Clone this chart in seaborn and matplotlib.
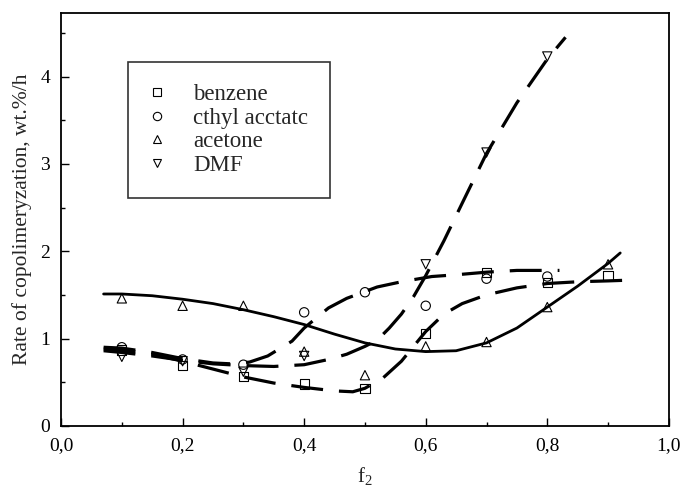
import matplotlib
matplotlib.use("Agg")
import matplotlib.pyplot as plt
from matplotlib.lines import Line2D
from matplotlib.ticker import MultipleLocator, FuncFormatter
import seaborn as sns
import pandas as pd

# measured points (f2, rate)
f_pts = [0.1, 0.2, 0.3, 0.4, 0.5, 0.6, 0.7, 0.8, 0.9]
benzene_y = [0.87, 0.69, 0.565, 0.48, 0.43, 1.06, 1.76, 1.64, 1.72]
ethyl_f = [0.1, 0.2, 0.3, 0.4, 0.5, 0.6, 0.7, 0.8]
ethyl_y = [0.90, 0.76, 0.70, 1.30, 1.53, 1.375, 1.685, 1.71]
acetone_y = [1.46, 1.375, 1.375, 0.85, 0.58, 0.91, 0.96, 1.36, 1.85]
dmf_f = [0.1, 0.2, 0.3, 0.4, 0.6, 0.7, 0.8]
dmf_y = [0.79, 0.74, 0.62, 0.80, 1.85, 3.13, 4.23]

# fitted curves
acetone_cx = [0.07, 0.10, 0.15, 0.20, 0.25, 0.30, 0.35, 0.40, 0.45, 0.50, 0.55, 0.60,
              0.65, 0.70, 0.75, 0.80, 0.85, 0.90, 0.92]
acetone_cy = [1.51, 1.51, 1.49, 1.45, 1.40, 1.33, 1.25, 1.16, 1.05, 0.95, 0.88, 0.85,
              0.86, 0.95, 1.12, 1.36, 1.60, 1.86, 1.98]
benzene_cx = [0.07, 0.10, 0.15, 0.20, 0.25, 0.30, 0.35, 0.40, 0.45, 0.48, 0.50, 0.53,
              0.56, 0.60, 0.63, 0.66, 0.70, 0.75, 0.80, 0.85, 0.90, 0.94]
benzene_cy = [0.88, 0.87, 0.82, 0.74, 0.65, 0.56, 0.49, 0.44, 0.40, 0.39, 0.43, 0.55,
              0.74, 1.08, 1.28, 1.40, 1.50, 1.58, 1.63, 1.65, 1.66, 1.67]
ethyl_cx = [0.07, 0.10, 0.15, 0.20, 0.25, 0.28, 0.31, 0.34, 0.38, 0.40, 0.44, 0.47,
            0.52, 0.56, 0.61, 0.65, 0.70, 0.75, 0.82]
ethyl_cy = [0.90, 0.89, 0.84, 0.77, 0.72, 0.71, 0.73, 0.80, 0.97, 1.12, 1.35, 1.46,
            1.59, 1.65, 1.71, 1.73, 1.76, 1.78, 1.78]
dmf_cx = [0.07, 0.10, 0.15, 0.20, 0.25, 0.30, 0.35, 0.40, 0.44, 0.47, 0.50, 0.52,
          0.54, 0.56, 0.58, 0.60, 0.63, 0.66, 0.70, 0.75, 0.80, 0.83]
dmf_cy = [0.86, 0.84, 0.80, 0.75, 0.71, 0.69, 0.68, 0.70, 0.76, 0.82, 0.91, 0.98,
          1.12, 1.28, 1.48, 1.72, 2.12, 2.55, 3.12, 3.70, 4.20, 4.45]

legend_labels = ["benzene", "cthyl acctatc", "acetone", "DMF"]

sns.set_style("ticks")
plt.rcParams["font.family"] = ["Liberation Serif", "DejaVu Serif"]
plt.rcParams["mathtext.default"] = "regular"

fig = plt.figure(figsize=(6.86, 4.94), dpi=100)
ax = fig.add_axes([0.089, 0.138, 0.886, 0.836])

# curves
dash = (10, 5)
sns.lineplot(x=acetone_cx, y=acetone_cy, ax=ax, color="black", lw=2.0, sort=False)
for cx, cy in [(benzene_cx, benzene_cy), (ethyl_cx, ethyl_cy), (dmf_cx, dmf_cy)]:
    l = sns.lineplot(x=cx, y=cy, ax=ax, color="black", lw=2.3, sort=False)
    l.lines[-1].set_dashes(dash)

# points
series = [(f_pts, benzene_y, "s"), (ethyl_f, ethyl_y, "o"),
          (f_pts, acetone_y, "^"), (dmf_f, dmf_y, "v")]
for xs, ys, m in series:
    sns.scatterplot(x=xs, y=ys, ax=ax, marker=m, s=45, facecolor="none",
                    edgecolor="black", linewidth=0.8, zorder=3)

ax.set_xlim(0, 1.0)
ax.set_ylim(0, 4.73)
ax.xaxis.set_major_locator(MultipleLocator(0.2))
ax.xaxis.set_minor_locator(MultipleLocator(0.1))
ax.yaxis.set_major_locator(MultipleLocator(1))
ax.yaxis.set_minor_locator(MultipleLocator(0.5))
ax.xaxis.set_major_formatter(FuncFormatter(lambda v, p: f"{v:.1f}".replace(".", ",")))
ax.yaxis.set_major_formatter(FuncFormatter(lambda v, p: f"{v:.0f}"))
ax.tick_params(which="both", direction="in", colors="black", labelsize=14)
ax.tick_params(which="major", length=6, width=1)
ax.tick_params(which="minor", length=3, width=1)
ax.tick_params(axis="x", which="major", pad=8)
ax.tick_params(axis="y", which="major", pad=8)
for sp in ax.spines.values():
    sp.set_visible(True)
    sp.set_color("black")
    sp.set_linewidth(1.3)

ax.set_xlabel("f$_2$", fontsize=15, labelpad=8)
ax.set_ylabel("Rate of copolimeryzation, wt.%/h", fontsize=15.5, labelpad=6)

handles = [Line2D([], [], ls="none", marker=m, ms=6, mfc="none", mec="black", mew=0.8)
           for m in ["s", "o", "^", "v"]]
leg = ax.legend(handles, legend_labels, loc="upper left", bbox_to_anchor=(0.110, 0.881),
                borderaxespad=0, fontsize=16.5, frameon=True, fancybox=False,
                edgecolor="black", handlelength=0.6, handletextpad=1.3,
                borderpad=0.95, labelspacing=0.12)
leg.get_frame().set_linewidth(1.2)

fig.savefig("out.png", dpi=100)
